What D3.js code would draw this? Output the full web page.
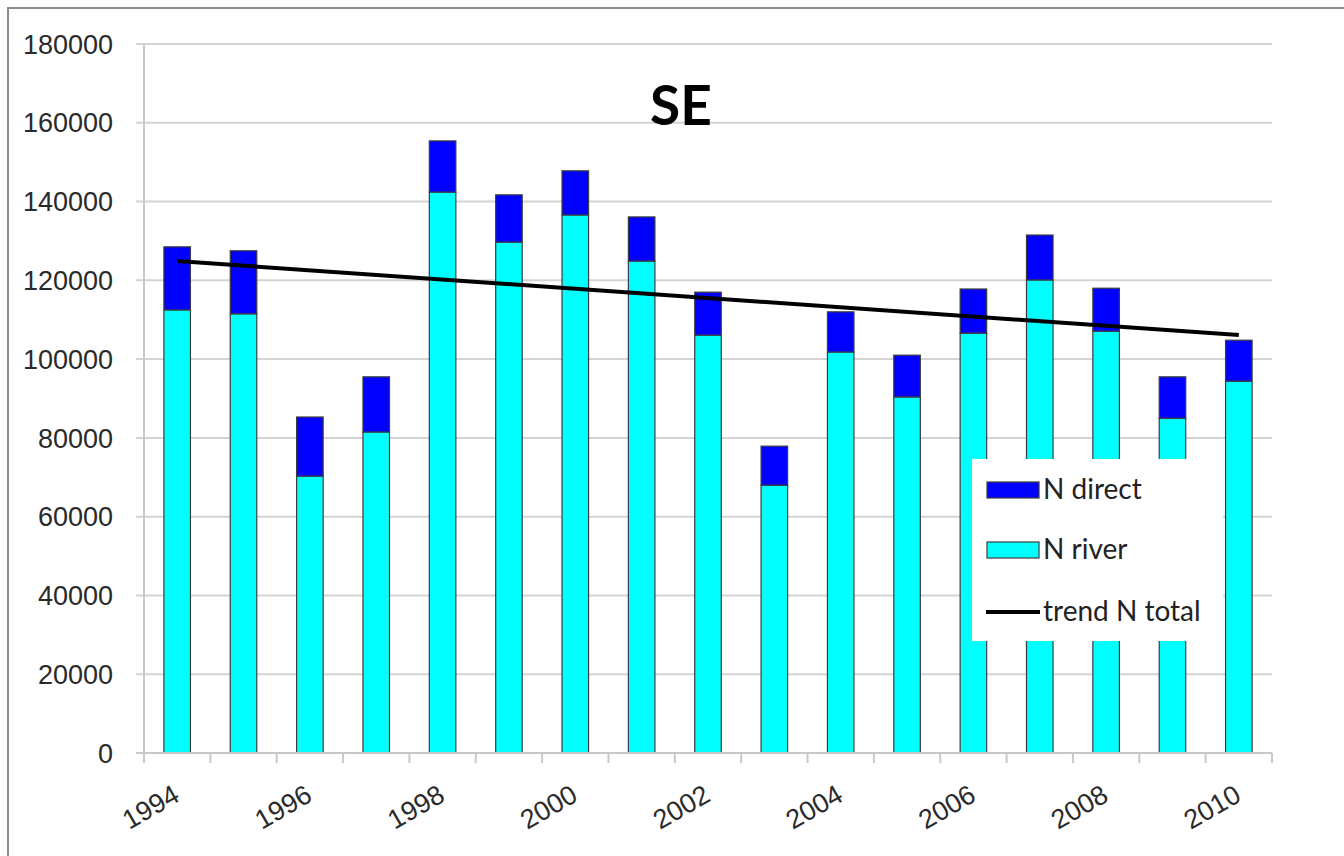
<!DOCTYPE html>
<html>
<head>
<meta charset="utf-8">
<script src="https://cdn.jsdelivr.net/npm/d3@7"></script>
<style>
  html, body { margin: 0; padding: 0; background: #fff; }
  svg { display: block; }
</style>
</head>
<body>
<script>
const years = [1994, 1995, 1996, 1997, 1998, 1999, 2000, 2001, 2002, 2003, 2004, 2005, 2006, 2007, 2008, 2009, 2010];
const nRiver = [112500, 111500, 70300, 81500, 142400, 129700, 136600, 124900, 106100, 68000, 101800, 90400, 106600, 120100, 107100, 85000, 94400];
const nDirect = [16000, 16000, 15000, 14000, 13000, 12000, 11200, 11200, 10900, 9900, 10200, 10600, 11200, 11400, 10900, 10500, 10400];
const trendYears = [1994, 2010];
const trendTotal = [124900, 106100];
const yTicks = [0, 20000, 40000, 60000, 80000, 100000, 120000, 140000, 160000, 180000];
const xLabels = [1994, 1996, 1998, 2000, 2002, 2004, 2006, 2008, 2010];

const width = 1344, height = 856;
const plotLeft = 144, plotRight = 1272, plotTop = 44, plotBottom = 753;

const svg = d3.select("body").append("svg")
  .attr("width", width)
  .attr("height", height);

// outer frame
svg.append("rect")
  .attr("x", 8).attr("y", 8)
  .attr("width", width).attr("height", height)
  .attr("fill", "#fff")
  .attr("stroke", "#8c8c8c")
  .attr("stroke-width", 2);

const x = d3.scaleBand()
  .domain(years)
  .range([plotLeft, plotRight])
  .paddingInner(0.6)
  .paddingOuter(0.3);

const y = d3.scaleLinear()
  .domain([0, 180000])
  .range([plotBottom, plotTop]);

// gridlines + y ticks
svg.append("g")
  .selectAll("line")
  .data(yTicks)
  .enter().append("line")
  .attr("x1", plotLeft - 8).attr("x2", plotRight)
  .attr("y1", d => y(d)).attr("y2", d => y(d))
  .attr("stroke", "#d4d4d4")
  .attr("stroke-width", 2);

svg.append("g")
  .selectAll("text")
  .data(yTicks)
  .enter().append("text")
  .attr("x", 113)
  .attr("y", d => y(d))
  .attr("dy", "0.36em")
  .attr("text-anchor", "end")
  .attr("font-family", "Liberation Sans, Arial, sans-serif")
  .attr("font-size", 27)
  .attr("fill", "#2a2a2a")
  .text(d => d);

// y axis line
svg.append("line")
  .attr("x1", plotLeft).attr("x2", plotLeft)
  .attr("y1", plotTop).attr("y2", plotBottom)
  .attr("stroke", "#c8c8c8")
  .attr("stroke-width", 2);

// x ticks between categories
const step = x.step();
const tickPos = years.map(d => x(d) - step * x.paddingInner() / 2).concat([plotRight]);
svg.append("g")
  .selectAll("line")
  .data(tickPos)
  .enter().append("line")
  .attr("x1", d => d).attr("x2", d => d)
  .attr("y1", plotBottom).attr("y2", plotBottom + 10)
  .attr("stroke", "#c8c8c8")
  .attr("stroke-width", 2);

// stacked bars
const rows = years.map((yr, i) => ({year: yr, river: nRiver[i], direct: nDirect[i]}));
const stack = d3.stack().keys(["river", "direct"])(rows);
const colors = {river: "#00ffff", direct: "#0000ff"};

svg.append("g")
  .selectAll("g")
  .data(stack)
  .enter().append("g")
  .attr("fill", d => colors[d.key])
  .selectAll("rect")
  .data(d => d)
  .enter().append("rect")
  .attr("x", d => x(d.data.year))
  .attr("width", x.bandwidth())
  .attr("y", d => y(d[1]))
  .attr("height", d => y(d[0]) - y(d[1]))
  .attr("stroke", "#3c3c3c")
  .attr("stroke-width", 1.2);

// x axis line
svg.append("line")
  .attr("x1", plotLeft - 8).attr("x2", plotRight)
  .attr("y1", plotBottom).attr("y2", plotBottom)
  .attr("stroke", "#c8c8c8")
  .attr("stroke-width", 2);

// trend line
svg.append("line")
  .attr("x1", x(trendYears[0]) + x.bandwidth() / 2)
  .attr("x2", x(trendYears[1]) + x.bandwidth() / 2)
  .attr("y1", y(trendTotal[0]))
  .attr("y2", y(trendTotal[1]))
  .attr("stroke", "#000")
  .attr("stroke-width", 4);

// x labels
svg.append("g")
  .selectAll("text")
  .data(xLabels)
  .enter().append("text")
  .attr("transform", d => "translate(" + (x(d) + x.bandwidth() / 2 + 4) + ",800) rotate(-30)")
  .attr("text-anchor", "end")
  .attr("font-family", "Liberation Sans, Arial, sans-serif")
  .attr("font-size", 27)
  .attr("fill", "#2a2a2a")
  .text(d => d);

// title
svg.append("text")
  .attr("x", 681).attr("y", 125)
  .attr("text-anchor", "middle")
  .attr("font-family", "Lato, sans-serif")
  .attr("font-weight", "bold")
  .attr("font-size", 55)
  .attr("fill", "#000")
  .text("SE");

// legend
const legend = svg.append("g");
legend.append("rect")
  .attr("x", 972).attr("y", 459)
  .attr("width", 251).attr("height", 182)
  .attr("fill", "#fff");

const legendItems = [
  {label: "N direct", type: "rect", color: "#0000ff", y: 490},
  {label: "N river", type: "rect", color: "#00ffff", y: 550},
  {label: "trend N total", type: "line", color: "#000", y: 612}
];

legendItems.forEach(d => {
  if (d.type === "rect") {
    legend.append("rect")
      .attr("x", 987).attr("y", d.y - 8)
      .attr("width", 52).attr("height", 16)
      .attr("fill", d.color)
      .attr("stroke", "#3c3c3c")
      .attr("stroke-width", 1.2);
  } else {
    legend.append("line")
      .attr("x1", 986).attr("x2", 1040)
      .attr("y1", d.y).attr("y2", d.y)
      .attr("stroke", d.color)
      .attr("stroke-width", 4);
  }
  legend.append("text")
    .attr("x", 1043)
    .attr("y", d.y + 9)
    .attr("font-family", "Lato, sans-serif")
    .attr("font-size", 28)
    .attr("fill", "#222")
    .text(d.label);
});
</script>
</body>
</html>
